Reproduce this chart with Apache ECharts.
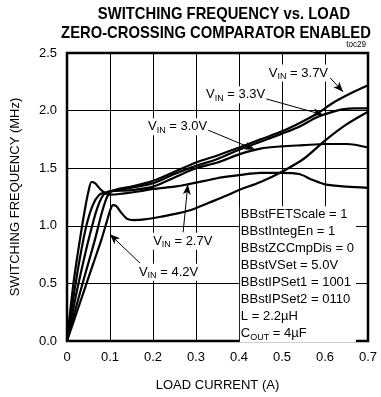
<!DOCTYPE html>
<html>
<head>
<meta charset="utf-8">
<script src="https://cdn.jsdelivr.net/npm/echarts@6/dist/echarts.min.js"></script>
<style>html,body{margin:0;padding:0;background:#fff}#c{width:381px;height:397px}</style>
</head>
<body>
<div id="c"></div>
<script>
// ---- data ----
const xTicks = [0, 0.1, 0.2, 0.3, 0.4, 0.5, 0.6, 0.7];
const yTicks = [0, 0.5, 1.0, 1.5, 2.0, 2.5];
const seriesNames = ['VIN = 2.7V', 'VIN = 3.0V', 'VIN = 3.3V', 'VIN = 3.7V', 'VIN = 4.2V'];
const v27 = [[0,0],[0.015,0.5],[0.03,0.88],[0.042,1.15],[0.05,1.3],[0.057,1.38],[0.065,1.37],[0.077,1.32],[0.09,1.28],[0.1,1.27],[0.13,1.28],[0.17,1.3],[0.2,1.32],[0.25,1.34],[0.28,1.36],[0.32,1.39],[0.36,1.42],[0.4,1.44],[0.45,1.46],[0.5,1.46],[0.54,1.45],[0.57,1.4],[0.6,1.36],[0.65,1.34],[0.7,1.33]];
const v30 = [[0,0],[0.015,0.38],[0.03,0.72],[0.045,1.0],[0.06,1.18],[0.075,1.27],[0.09,1.29],[0.1,1.3],[0.15,1.31],[0.2,1.34],[0.25,1.42],[0.3,1.5],[0.35,1.55],[0.4,1.62],[0.45,1.67],[0.5,1.69],[0.55,1.7],[0.6,1.71],[0.65,1.71],[0.7,1.68]];
const v33 = [[0,0],[0.02,0.38],[0.04,0.72],[0.055,0.95],[0.07,1.15],[0.085,1.27],[0.1,1.3],[0.12,1.31],[0.15,1.33],[0.2,1.37],[0.25,1.45],[0.3,1.52],[0.35,1.58],[0.4,1.66],[0.45,1.73],[0.5,1.8],[0.54,1.86],[0.58,1.94],[0.61,1.98],[0.64,2.01],[0.67,2.02],[0.7,2.02]];
const v37 = [[0,0],[0.02,0.28],[0.04,0.55],[0.065,0.88],[0.08,1.1],[0.092,1.24],[0.1,1.29],[0.12,1.32],[0.15,1.34],[0.2,1.39],[0.25,1.47],[0.3,1.55],[0.35,1.61],[0.4,1.68],[0.45,1.75],[0.5,1.82],[0.54,1.89],[0.58,1.97],[0.62,2.07],[0.66,2.15],[0.7,2.22]];
const v42 = [[0,0],[0.02,0.22],[0.04,0.44],[0.06,0.66],[0.08,0.88],[0.092,1.03],[0.1,1.13],[0.107,1.18],[0.115,1.17],[0.125,1.12],[0.14,1.06],[0.155,1.05],[0.18,1.055],[0.22,1.08],[0.26,1.11],[0.29,1.14],[0.33,1.2],[0.37,1.26],[0.4,1.31],[0.45,1.38],[0.5,1.47],[0.55,1.58],[0.6,1.74],[0.65,1.88],[0.7,1.99]];
// annotation labels: [text value, left x, middle y] in data units
const labelVals = ['3.7V', '3.3V', '3.0V', '2.7V', '4.2V'];
const labelPos = [[0.467,2.327],[0.321,2.137],[0.186,1.86],[0.198,0.865],[0.165,0.597]];
// arrows: from -> to, data units
const arrowFrom = [[0.612,2.284],[0.463,2.102],[0.326,1.834],[0.27,0.943],[0.17,0.675]];
const arrowTo = [[0.642,2.163],[0.595,1.964],[0.437,1.661],[0.281,1.358],[0.1,0.926]];
const noteLines = ['BBstFETScale = 1','BBstIntegEn = 1','BBstZCCmpDis = 0','BBstVSet = 5.0V','BBstIPSet1 = 1001','BBstIPSet2 = 0110','L = 2.2\u00B5H'];
const notePos = [0.402, 1.17];
const titleLines = ['SWITCHING FREQUENCY vs. LOAD', 'ZERO-CROSSING COMPARATOR ENABLED'];

const FF = 'Liberation Sans, Arial, sans-serif';

const chart = echarts.init(document.getElementById('c'), null, {renderer: 'canvas'});
const allData = [v27, v30, v33, v37, v42];
const series = allData.map((d, i) => ({
  name: seriesNames[i], type: 'line', data: d, smooth: 0.3, symbol: 'none',
  lineStyle: {color: '#000', width: 2.2}, z: 3
}));
series.push({
  type: 'line', data: [], symbol: 'none', silent: true,
  markLine: {
    silent: true, symbol: ['none', 'arrow'], symbolSize: [6, 10],
    label: {show: false}, lineStyle: {color: '#000', width: 1, type: 'solid'},
    animation: false,
    data: arrowFrom.map((f, i) => [{coord: f}, {coord: arrowTo[i]}])
  }
});

chart.setOption({
  animation: false,
  grid: {left: 67, top: 53, width: 301, height: 289, show: true, borderColor: '#000', borderWidth: 2.5, backgroundColor: 'transparent', z: 10},
  xAxis: {
    type: 'value', min: 0, max: 0.7, interval: 0.1,
    axisLine: {show: false}, axisTick: {show: false},
    splitLine: {show: true, lineStyle: {color: '#000', width: 1}},
    axisLabel: {color: '#000', fontSize: 13, fontFamily: FF, margin: 10,
      formatter: v => v === 0 ? '0' : v.toFixed(1)},
    name: 'LOAD CURRENT (A)', nameLocation: 'middle', nameGap: 38,
    nameTextStyle: {color: '#000', fontSize: 13, fontFamily: FF}
  },
  yAxis: {
    type: 'value', min: 0, max: 2.5, interval: 0.5,
    axisLine: {show: false}, axisTick: {show: false},
    splitLine: {show: true, lineStyle: {color: '#000', width: 1}},
    axisLabel: {color: '#000', fontSize: 13, fontFamily: FF, margin: 10,
      formatter: v => v.toFixed(1)},
    name: 'SWITCHING FREQUENCY (MHz)', nameLocation: 'middle', nameGap: 45,
    nameTextStyle: {color: '#000', fontSize: 13, fontFamily: FF}
  },
  series: series
});

const graphics = [];
graphics.push({type: 'text', position: [224, 14], scaleX: 0.87, style: {text: titleLines[0], font: 'bold 17px ' + FF, fill: '#000', textAlign: 'center', textVerticalAlign: 'middle'}});
graphics.push({type: 'text', position: [216, 33], scaleX: 0.87, style: {text: titleLines[1], font: 'bold 17px ' + FF, fill: '#000', textAlign: 'center', textVerticalAlign: 'middle'}});
graphics.push({type: 'text', position: [366, 45], scaleX: 0.9, style: {text: 'toc29', font: '9px ' + FF, fill: '#000', textAlign: 'right', textVerticalAlign: 'middle'}});

labelVals.forEach((t, i) => {
  const p = chart.convertToPixel({gridIndex: 0}, labelPos[i]);
  graphics.push({type: 'text', z: 20, position: [p[0], p[1]], style: {
    text: '{v|V}{s|IN}{v| = ' + t + '}', textVerticalAlign: 'middle', textAlign: 'left',
    backgroundColor: '#fff', padding: [0, 1, 0, 1],
    rich: {v: {fontSize: 13, fontFamily: FF, fill: '#000', lineHeight: 17},
           s: {fontSize: 9, fontFamily: FF, fill: '#000', lineHeight: 17, padding: [7, 0, 0, 0]}}
  }});
});

const np = chart.convertToPixel({gridIndex: 0}, notePos);
graphics.push({type: 'text', z: 20, position: [np[0], np[1]], style: {
  text: noteLines.map(l => '{v|' + l + '}').join('\n') + '\n{v|C}{s|OUT}{v| = 4\u00B5F}',
  textVerticalAlign: 'top', textAlign: 'left', backgroundColor: '#fff', padding: [0, 2, 0, 1],
  rich: {v: {fontSize: 13, fontFamily: FF, fill: '#000', lineHeight: 17},
         s: {fontSize: 9, fontFamily: FF, fill: '#000', lineHeight: 17, padding: [7, 0, 0, 0]}}
}});

chart.setOption({graphic: graphics});
</script>
</body>
</html>
